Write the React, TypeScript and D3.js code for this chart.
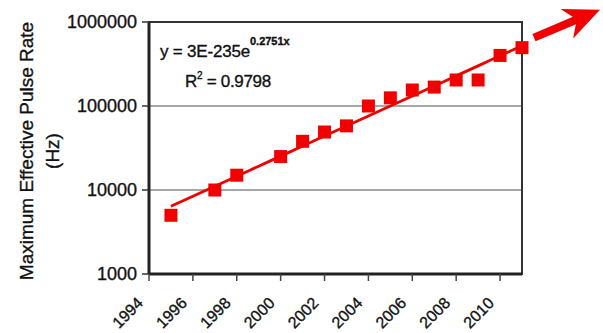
import React, { useMemo } from "react";
import * as d3 from "d3";

// Maximum effective pulse rate per year (Hz)
const years = [1995, 1997, 1998, 2000, 2001, 2002, 2003, 2004, 2005, 2006, 2007, 2008, 2009, 2010, 2011];
const rates = [5000, 10000, 15000, 25000, 38000, 49000, 58000, 100000, 125000, 155000, 168000, 204000, 204000, 400000, 495000];
const yTicks = [1000, 10000, 100000, 1000000];
const xTicks = [1994, 1996, 1998, 2000, 2002, 2004, 2006, 2008, 2010];
const equationMain = "y = 3E-235e";
const equationExp = "0.2751x";
const rSquared = "R";
const rSquaredRest = " = 0.9798";

const W = 603;
const H = 333;
const plot = { left: 149, right: 522, top: 22, bottom: 274 };
const RED = "#f20000";
const INK = "#111";
const FONT = "'Liberation Sans', Arial, sans-serif";

export default function App() {
  const x = d3.scaleLinear().domain([1994, 2011]).range([plot.left, plot.right]);
  const y = d3.scaleLog().domain([1000, 1000000]).range([plot.bottom, plot.top]);

  // exponential least-squares fit: ln(rate) = ln(a) + b * year
  const fit = useMemo(() => {
    const n = years.length;
    const ly = rates.map((v) => Math.log(v));
    const mx = d3.mean(years) as number;
    const my = d3.mean(ly) as number;
    let sxy = 0;
    let sxx = 0;
    for (let i = 0; i < n; i++) {
      sxy += (years[i] - mx) * (ly[i] - my);
      sxx += (years[i] - mx) * (years[i] - mx);
    }
    const b = sxy / sxx;
    const lnA = my - b * mx;
    return (yr: number) => Math.exp(lnA + b * yr);
  }, []);

  const trendYears = d3.range(years[0], years[years.length - 1] + 0.01, 0.5);
  const trendPath = d3
    .line<number>()
    .x((d) => x(d))
    .y((d) => y(fit(d)))(trendYears) as string;

  const sq = 13;

  // growth arrow pointing up-right, off the last point
  const lastX = x(years[years.length - 1]);
  const lastY = y(rates[rates.length - 1]);
  const ax0 = lastX + 12;
  const ay0 = lastY - 10;
  const ax1 = lastX + 78;
  const ay1 = lastY - 38;
  const ang = Math.atan2(ay1 - ay0, ax1 - ax0);
  const headLen = 36;
  const headW = 16;
  const cos = Math.cos(ang);
  const sin = Math.sin(ang);
  const bx = ax1 - headLen * cos;
  const by = ay1 - headLen * sin;
  const px = -sin;
  const py = cos;
  const notchX = bx + headLen * 0.3 * cos;
  const notchY = by + headLen * 0.3 * sin;

  const textProps = { fill: INK, stroke: INK, strokeWidth: 0.35 };

  return (
    <svg
      width={W}
      height={H}
      style={{ position: "absolute", left: 0, top: 0, background: "#fff" }}
      fontFamily={FONT}
    >
      <rect x={0} y={0} width={W} height={H} fill="#fff" />

      {/* horizontal gridlines */}
      {yTicks.slice(1, -1).map((t) => (
        <line key={t} x1={plot.left} x2={plot.right} y1={y(t)} y2={y(t)} stroke="#8a8a8a" strokeWidth={1.5} />
      ))}

      {/* plot frame */}
      <rect
        x={plot.left}
        y={plot.top}
        width={plot.right - plot.left}
        height={plot.bottom - plot.top}
        fill="none"
        stroke="#333"
        strokeWidth={2}
      />
      <line x1={plot.left} x2={plot.left} y1={plot.top} y2={plot.bottom} stroke="#222" strokeWidth={3} />
      <line x1={plot.left} x2={plot.right} y1={plot.bottom} y2={plot.bottom} stroke="#222" strokeWidth={3} />

      {/* y axis ticks and labels */}
      {yTicks.map((t) => (
        <g key={t}>
          <line x1={plot.left - 7} x2={plot.left} y1={y(t)} y2={y(t)} stroke="#333" strokeWidth={1.5} />
          <text x={plot.left - 12} y={y(t)} dy="0.36em" textAnchor="end" fontSize={18} {...textProps}>
            {t}
          </text>
        </g>
      ))}

      {/* x axis ticks and labels */}
      {xTicks.map((t) => (
        <g key={t}>
          <line x1={x(t)} x2={x(t)} y1={plot.bottom} y2={plot.bottom + 7} stroke="#444" strokeWidth={1.5} />
          <text
            transform={`translate(${x(t) - 9},${plot.bottom + 26}) rotate(-45)`}
            textAnchor="end"
            dy="0.36em"
            fontSize={16}
            {...textProps}
          >
            {t}
          </text>
        </g>
      ))}

      {/* y axis title */}
      <g transform={`translate(26,${(plot.top + plot.bottom) / 2 + 3}) rotate(-90)`}>
        <text textAnchor="middle" dy="0.36em" fontSize={19} {...textProps}>
          Maximum Effective Pulse Rate
        </text>
        <text y={26} textAnchor="middle" dy="0.36em" fontSize={19} {...textProps}>
          (Hz)
        </text>
      </g>

      {/* trendline */}
      <path d={trendPath} fill="none" stroke={RED} strokeWidth={2.8} strokeLinejoin="round" />

      {/* data markers */}
      {years.map((yr, i) => (
        <rect key={yr} x={x(yr) - sq / 2} y={y(rates[i]) - sq / 2} width={sq} height={sq} fill={RED} />
      ))}

      {/* trendline equation */}
      <text x={160} y={57} fontSize={17} letterSpacing={-0.2} {...textProps}>
        {equationMain}
        <tspan dy={-12} fontSize={11} fontWeight="bold" letterSpacing={0}>
          {equationExp}
        </tspan>
      </text>
      <text x={185} y={87} fontSize={17} letterSpacing={-0.3} {...textProps}>
        {rSquared}
        <tspan dy={-8} fontSize={10}>2</tspan>
        <tspan dy={8}>{rSquaredRest}</tspan>
      </text>

      {/* growth arrow */}
      <line x1={ax0} y1={ay0} x2={notchX + 2 * cos} y2={notchY + 2 * sin} stroke={RED} strokeWidth={8} />
      <path
        d={`M${ax1},${ay1} L${bx + px * headW},${by + py * headW} L${notchX},${notchY} L${bx - px * headW},${by - py * headW} Z`}
        fill={RED}
      />
    </svg>
  );
}
